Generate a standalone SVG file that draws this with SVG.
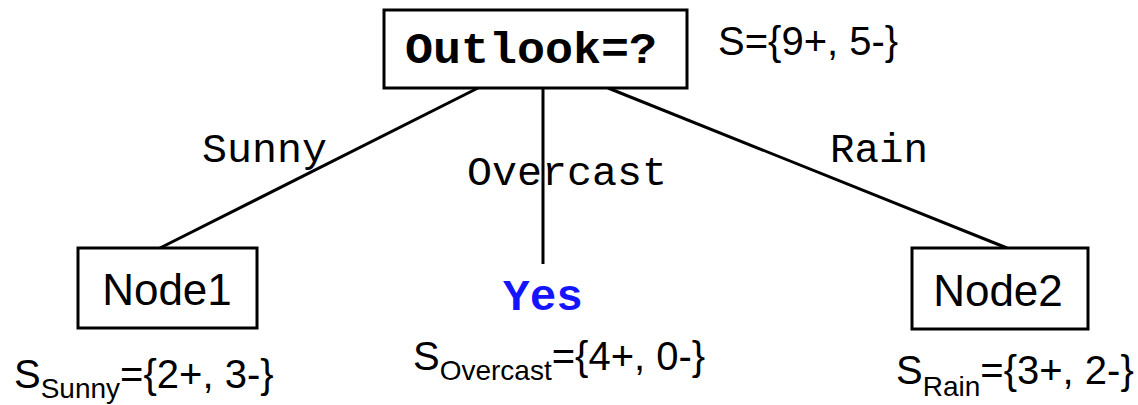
<svg xmlns="http://www.w3.org/2000/svg" width="1138" height="405" viewBox="0 0 1138 405">
<style>
.box{fill:#fff;stroke:#000;stroke-width:3}
.edge{stroke:#000;stroke-width:3;fill:none}
.mono{font-family:"Liberation Mono","Courier New",monospace;fill:#000}
.sans{font-family:"Liberation Sans",Arial,sans-serif;fill:#000}
.big{font-size:44px}
.set{font-size:40px}
.sub{font-size:28px}
.lbl{font-size:41px}
</style>
<rect width="1138" height="405" fill="#fff"/>
<g id="connectors">
<line class="edge" x1="478" y1="88" x2="160" y2="248"/>
<line class="edge" x1="543" y1="88" x2="543" y2="264"/>
<line class="edge" x1="608" y1="88" x2="1007" y2="248"/>
<text class="mono lbl" x="202" y="162" textLength="125" lengthAdjust="spacingAndGlyphs">Sunny</text>
<text class="mono lbl" x="467" y="185" textLength="200" lengthAdjust="spacingAndGlyphs">Overcast</text>
<text class="mono lbl" x="830" y="162" textLength="98" lengthAdjust="spacingAndGlyphs">Rain</text>
</g>
<g id="root">
<rect class="box" x="384" y="10" width="303" height="78"/>
<text class="mono big" x="405" y="63" font-weight="bold" textLength="252" lengthAdjust="spacingAndGlyphs">Outlook=?</text>
<text class="sans set" x="718" y="55">S={9+, 5-}</text>
</g>
<g id="node1">
<rect class="box" x="78" y="248" width="179" height="80"/>
<text class="sans big" x="167" y="305" text-anchor="middle">Node1</text>
<text class="sans set" x="14" y="388">S<tspan class="sub" dy="10">Sunny</tspan><tspan dy="-10">={2+, 3-}</tspan></text>
</g>
<g id="yes">
<text class="mono big" x="503" y="310" font-weight="bold" fill="#0000ff" style="fill:#1414ff" textLength="80" lengthAdjust="spacingAndGlyphs">Yes</text>
<text class="sans set" x="413" y="370">S<tspan class="sub" dy="10">Overcast</tspan><tspan dy="-10">={4+, 0-}</tspan></text>
</g>
<g id="node2">
<rect class="box" x="912" y="248" width="176" height="81"/>
<text class="sans big" x="998" y="306" text-anchor="middle">Node2</text>
<text class="sans set" x="896" y="384">S<tspan class="sub" dy="12">Rain</tspan><tspan dy="-12">={3+, 2-}</tspan></text>
</g>
</svg>
